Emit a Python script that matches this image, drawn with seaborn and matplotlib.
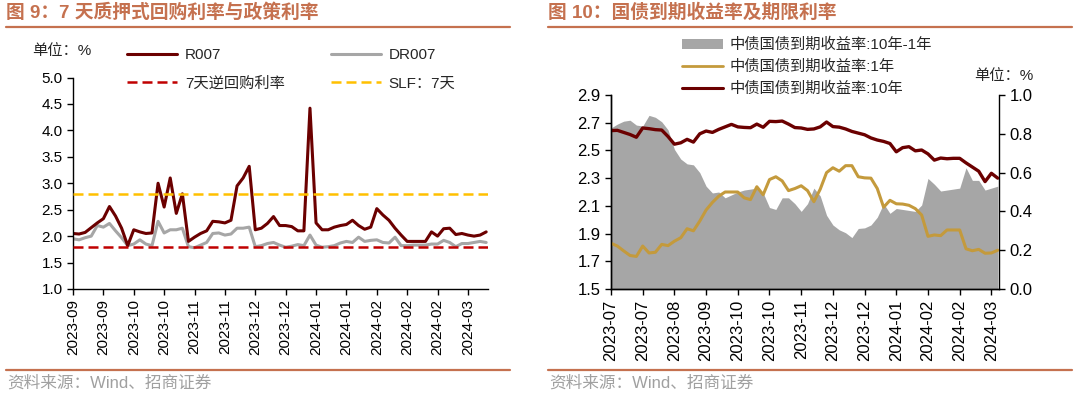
import numpy as np
import pandas as pd
import seaborn as sns
import matplotlib.pyplot as plt
from matplotlib.lines import Line2D
from matplotlib.patches import Patch

# ---- 图9：7天质押式回购利率与政策利率（约每5个交易日一个刻度）----
r007 = [2.05, 2.04, 2.07, 2.16, 2.25, 2.33, 2.56, 2.38, 2.15, 1.82,
        2.12, 2.08, 2.05, 2.06, 3.00, 2.55, 3.10, 2.43, 2.80, 1.90,
        1.98, 2.05, 2.10, 2.28, 2.27, 2.25, 2.30, 2.95, 3.10, 3.32,
        2.12, 2.15, 2.24, 2.37, 2.20, 2.20, 2.18, 2.10, 2.10, 4.42,
        2.25, 2.12, 2.12, 2.17, 2.20, 2.22, 2.30, 2.20, 2.13, 2.17,
        2.52, 2.40, 2.30, 2.15, 2.02, 1.90, 1.90, 1.90, 1.90, 2.08,
        2.00, 2.14, 2.15, 2.03, 2.05, 2.02, 2.00, 2.02, 2.08]
dr007 = [1.95, 1.93, 1.97, 2.00, 2.20, 2.17, 2.24, 2.10, 1.97, 1.82,
         1.85, 1.93, 1.85, 1.82, 2.28, 2.06, 2.12, 2.12, 2.15, 1.80,
         1.78, 1.83, 1.88, 2.05, 2.06, 2.02, 2.04, 2.15, 2.15, 2.17,
         1.80, 1.82, 1.86, 1.88, 1.83, 1.79, 1.81, 1.84, 1.82, 2.02,
         1.83, 1.79, 1.80, 1.82, 1.87, 1.90, 1.88, 1.98, 1.90, 1.92,
         1.93, 1.88, 1.87, 1.98, 1.82, 1.82, 1.83, 1.83, 1.83, 1.85,
         1.85, 1.92, 1.88, 1.80, 1.86, 1.86, 1.88, 1.90, 1.88]
reverse_repo_7d = 1.8
slf_7d = 2.8
left_ticks = ['2023-09', '2023-09', '2023-10', '2023-10', '2023-11', '2023-11',
              '2023-12', '2023-12', '2024-01', '2024-01', '2024-02', '2024-02',
              '2024-02', '2024-03']

# ---- 图10：国债到期收益率及期限利率 ----
cgb_10y = [2.643, 2.645, 2.630, 2.615, 2.595, 2.662, 2.657, 2.650, 2.647, 2.600,
           2.545, 2.555, 2.580, 2.560, 2.620, 2.640, 2.630, 2.652, 2.670, 2.688,
           2.670, 2.666, 2.664, 2.690, 2.667, 2.710, 2.708, 2.712, 2.690, 2.665,
           2.662, 2.652, 2.655, 2.670, 2.705, 2.672, 2.668, 2.655, 2.637, 2.625,
           2.613, 2.590, 2.575, 2.565, 2.550, 2.490, 2.520, 2.527, 2.497, 2.503,
           2.475, 2.430, 2.445, 2.440, 2.443, 2.443, 2.410, 2.380, 2.350, 2.275,
           2.335, 2.300]
cgb_1y = [1.830, 1.810, 1.775, 1.742, 1.735, 1.810, 1.760, 1.765, 1.822, 1.813,
          1.845, 1.870, 1.935, 1.920, 1.990, 2.070, 2.125, 2.170, 2.200, 2.200,
          2.200, 2.158, 2.145, 2.238, 2.180, 2.290, 2.310, 2.280, 2.210, 2.225,
          2.245, 2.210, 2.130, 2.220, 2.340, 2.375, 2.350, 2.390, 2.390, 2.310,
          2.302, 2.300, 2.225, 2.090, 2.140, 2.115, 2.113, 2.104, 2.080, 2.034,
          1.880, 1.890, 1.885, 1.926, 1.926, 1.926, 1.790, 1.776, 1.786, 1.758,
          1.760, 1.780]
spread_10y_1y = [0.83, 0.85, 0.865, 0.87, 0.845, 0.84, 0.895, 0.885, 0.862, 0.82,
                 0.72, 0.67, 0.645, 0.64, 0.60, 0.53, 0.495, 0.50, 0.47, 0.485,
                 0.50, 0.51, 0.515, 0.52, 0.495, 0.42, 0.41, 0.47, 0.47, 0.44,
                 0.40, 0.44, 0.52, 0.48, 0.38, 0.33, 0.305, 0.29, 0.265, 0.312,
                 0.315, 0.33, 0.37, 0.44, 0.39, 0.415, 0.41, 0.405, 0.40, 0.433,
                 0.57, 0.54, 0.505, 0.51, 0.515, 0.52, 0.625, 0.56, 0.56, 0.51,
                 0.52, 0.53]
right_ticks = ['2023-07', '2023-07', '2023-08', '2023-09', '2023-10', '2023-10',
               '2023-11', '2023-12', '2023-12', '2024-01', '2024-02', '2024-02',
               '2024-03']

TICK_STEP = 5
MAROON = '#6B0000'
GREY = '#A6A6A6'
GOLD = '#C49A3C'
RED = '#C00000'
AMBER = '#FFC000'
ACCENT = '#C5714F'

sns.set_style('ticks')
plt.rcParams['font.family'] = ['Liberation Sans', 'Noto Sans CJK SC', 'DejaVu Sans']
plt.rcParams['axes.unicode_minus'] = False

W, H = 1077, 394
fig = plt.figure(figsize=(W / 100, H / 100), dpi=100)


def fx(px):
    return px / W


def fy(py):
    return 1 - py / H


def style_axis(ax, size):
    ax.tick_params(axis='both', direction='out', length=4, width=1,
                   colors='black', labelsize=size)
    for s in ax.spines.values():
        s.set_color('black')
        s.set_linewidth(1)


# ---------------- 左图 ----------------
df1 = pd.DataFrame({'idx': np.arange(len(r007)), 'R007': r007, 'DR007': dr007})
ax1 = fig.add_axes([fx(73), fy(289), fx(488 - 73), (289 - 77.5) / H])
sns.lineplot(data=df1, x='idx', y='DR007', ax=ax1, color=GREY, linewidth=2.2)
sns.lineplot(data=df1, x='idx', y='R007', ax=ax1, color=MAROON, linewidth=2.2)
ax1.axhline(reverse_repo_7d, color=RED, lw=1.8, dashes=(4, 2), zorder=3)
ax1.axhline(slf_7d, color=AMBER, lw=1.8, dashes=(4, 2), zorder=3)
ax1.set_xlim(0, 68.3)
ax1.set_ylim(1.0, 5.0)
ax1.set_yticks(np.arange(1.0, 5.01, 0.5))
ax1.set_yticklabels([f'{v:.1f}' for v in np.arange(1.0, 5.01, 0.5)])
ax1.set_xticks(np.arange(len(left_ticks)) * TICK_STEP)
ax1.set_xticklabels(left_ticks, rotation=90)
ax1.set_xlabel('')
ax1.set_ylabel('')
sns.despine(ax=ax1)
style_axis(ax1, 11)

h_left = [Line2D([], [], color=MAROON, lw=2.2),
          Line2D([], [], color=RED, lw=1.8, dashes=(4, 2)),
          Line2D([], [], color=GREY, lw=2.2),
          Line2D([], [], color=AMBER, lw=1.8, dashes=(4, 2))]
fig.legend(h_left, ['R007', '7天逆回购利率', 'DR007', 'SLF：7天'],
           loc='upper left', bbox_to_anchor=(fx(127), fy(48)), ncol=2,
           frameon=False, fontsize=11, handlelength=3.3, handletextpad=0.5,
           labelspacing=0.95, columnspacing=3.0, borderpad=0, borderaxespad=0)
fig.text(fx(32), fy(51), '单位：%', fontsize=11, va='center', ha='left')

# ---------------- 右图 ----------------
n2 = len(cgb_10y)
df2 = pd.DataFrame({'idx': np.arange(n2), 'y10': cgb_10y, 'y1': cgb_1y,
                    'spread': spread_10y_1y})
ax2 = fig.add_axes([fx(611), fy(289), fx(999 - 611), (289 - 95) / H])
ax2r = ax2.twinx()
ax2r.fill_between(df2['idx'], 0, df2['spread'], color=GREY, lw=0)
ax2.set_zorder(ax2r.get_zorder() + 1)
ax2.patch.set_visible(False)
sns.lineplot(data=df2, x='idx', y='y1', ax=ax2, color=GOLD, linewidth=2.2)
sns.lineplot(data=df2, x='idx', y='y10', ax=ax2, color=MAROON, linewidth=2.4)
ax2.set_xlim(0, 61.2)
ax2.set_ylim(1.5, 2.9)
ax2.set_yticks(np.arange(1.5, 2.91, 0.2))
ax2.set_yticklabels([f'{v:.1f}' for v in np.arange(1.5, 2.91, 0.2)])
ax2r.set_ylim(0, 1.0)
ax2r.set_yticks(np.arange(0, 1.01, 0.2))
ax2r.set_yticklabels([f'{v:.1f}' for v in np.arange(0, 1.01, 0.2)])
ax2.set_xticks(np.arange(len(right_ticks)) * TICK_STEP)
ax2.set_xticklabels(right_ticks, rotation=90)
ax2.set_xlabel('')
ax2.set_ylabel('')
for a in (ax2, ax2r):
    a.spines['top'].set_visible(False)
    style_axis(a, 12)
ax2.spines['right'].set_visible(False)

h_right = [Patch(facecolor=GREY, edgecolor='none'),
           Line2D([], [], color=GOLD, lw=2.0),
           Line2D([], [], color=MAROON, lw=2.2)]
fig.legend(h_right, ['中债国债到期收益率:10年-1年', '中债国债到期收益率:1年',
                     '中债国债到期收益率:10年'],
           loc='upper left', bbox_to_anchor=(fx(682), fy(38)), ncol=1,
           frameon=False, fontsize=11, handlelength=2.7, handletextpad=0.4,
           labelspacing=0.5, borderpad=0, borderaxespad=0)
fig.text(fx(1033), fy(76), '单位：%', fontsize=11, va='center', ha='right')

# ---------------- 标题、分隔线、来源 ----------------
for x0, x1, title in [(6, 510, '图 9：7 天质押式回购利率与政策利率'),
                      (548, 1072, '图 10：国债到期收益率及期限利率')]:
    fig.text(fx(x0), fy(13), title, fontsize=13.5, fontweight='bold',
             color=ACCENT, va='center', ha='left')
    fig.add_artist(Line2D([fx(x0), fx(x1)], [fy(27), fy(27)], color=ACCENT, lw=1.6))
    fig.add_artist(Line2D([fx(x0), fx(x1)], [fy(370), fy(370)], color=ACCENT, lw=1.6))
    fig.text(fx(x0 + 1), fy(383), '资料来源：Wind、招商证券', fontsize=12,
             color='#A0A0A0', va='center', ha='left')

fig.savefig('out.png', dpi=100)
